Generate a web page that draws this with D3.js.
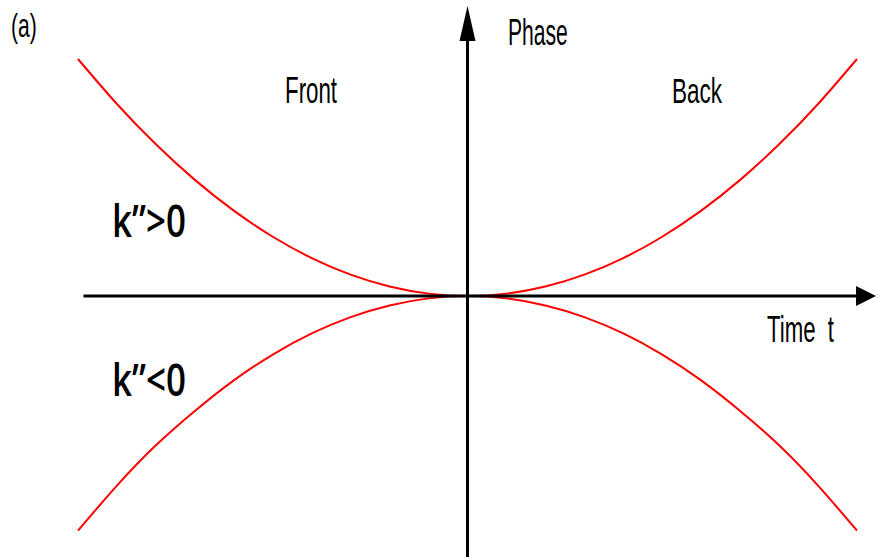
<!DOCTYPE html>
<html>
<head>
<meta charset="utf-8">
<script src="https://cdn.jsdelivr.net/npm/d3@7"></script>
<style>
  body { margin: 0; background: #fff; }
  text { font-family: "Liberation Sans", Arial, sans-serif; fill: #000; white-space: pre; }
  .k { font-family: "Open Sans", "Noto Sans", sans-serif; font-weight: 600; }
</style>
</head>
<body>
<div class="chart"></div>
<script>
// time values (normalised) and phase
const timeValues = [-1, -0.9, -0.8, -0.7, -0.6, -0.5, -0.4, -0.3, -0.2, -0.1, 0,
                    0.1, 0.2, 0.3, 0.4, 0.5, 0.6, 0.7, 0.8, 0.9, 1];
const phasePositive = [1, 0.81, 0.64, 0.49, 0.36, 0.25, 0.16, 0.09, 0.04, 0.01, 0,
                       0.01, 0.04, 0.09, 0.16, 0.25, 0.36, 0.49, 0.64, 0.81, 1];
const phaseNegative = [-0.99, -0.80, -0.63, -0.485, -0.356, -0.247, -0.158, -0.089, -0.04, -0.01, 0,
                       -0.01, -0.04, -0.089, -0.158, -0.247, -0.356, -0.485, -0.63, -0.80, -0.99];
const curveLabels = ['k\u201D>0', 'k\u201D<0'];
const axisLabels = ['Phase', 'Time  t'];
const regionLabels = ['Front', 'Back'];

const width = 877;
const height = 557;

const svg = d3.select('.chart')
  .append('svg')
  .attr('width', width)
  .attr('height', height);

const xScale = d3.scaleLinear().domain([-1, 1]).range([78, 857]);
const yScale = d3.scaleLinear().domain([-1, 1]).range([533, 59]);

// curves
const line = d3.line()
  .x(d => xScale(d[0]))
  .y(d => yScale(d[1]))
  .curve(d3.curveNatural);

[phasePositive, phaseNegative].forEach(series => {
  svg.append('path')
    .datum(timeValues.map((t, i) => [t, series[i]]))
    .attr('d', line)
    .attr('fill', 'none')
    .attr('stroke', '#ff0000')
    .attr('stroke-width', 2);
});

// axes with arrow heads
const x0 = xScale(0);
const y0 = yScale(0);

svg.append('line')
  .attr('x1', xScale(-0.986)).attr('x2', 860)
  .attr('y1', y0).attr('y2', y0)
  .attr('stroke', '#000').attr('stroke-width', 3);

svg.append('line')
  .attr('x1', x0).attr('x2', x0)
  .attr('y1', height).attr('y2', 36)
  .attr('stroke', '#000').attr('stroke-width', 3);

svg.append('path')
  .attr('d', `M876,${y0} L856,${y0 - 10} L856,${y0 + 10} Z`)
  .attr('fill', '#000');

svg.append('path')
  .attr('d', `M${x0},6 L${x0 - 8},41 L${x0 + 8},41 Z`)
  .attr('fill', '#000');

// labels
function addLabel(txt, x, y, size, sx, cls) {
  svg.append('text')
    .attr('class', cls || null)
    .attr('transform', `translate(${x},${y}) scale(${sx},1)`)
    .style('font-size', size + 'px')
    .text(txt);
}

addLabel('(a)', 11, 37, 34, 0.62);
addLabel(axisLabels[0], 508, 45, 37, 0.57);
addLabel(axisLabels[1], 767, 342, 37, 0.6);
addLabel(regionLabels[0], 285, 103, 36, 0.62);
addLabel(regionLabels[1], 672, 103, 36, 0.625);
addLabel(curveLabels[0], 112, 237, 46, 0.76, 'k');
addLabel(curveLabels[1], 112, 396, 46, 0.76, 'k');
</script>
</body>
</html>
